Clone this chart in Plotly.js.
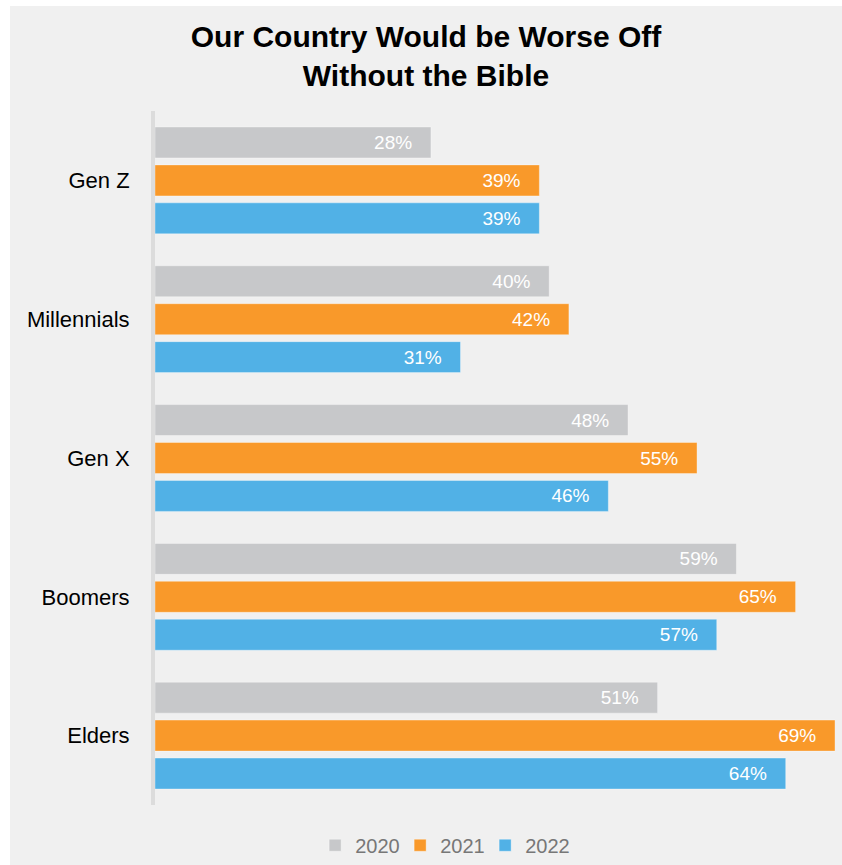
<!DOCTYPE html>
<html>
<head>
<meta charset="utf-8">
<script src="https://cdn.plot.ly/plotly-3.0.1.min.js"></script>
<style>
  html, body { margin: 0; padding: 0; background: #ffffff; }
  #chart { position: absolute; left: 10px; top: 6px; width: 832px; height: 859px; }
</style>
</head>
<body>
<div id="chart"></div>
<script>
const categories = ["Gen Z", "Millennials", "Gen X", "Boomers", "Elders"];
const values2020 = [28, 40, 48, 59, 51];
const values2021 = [39, 42, 55, 65, 69];
const values2022 = [39, 31, 46, 57, 64];
const seriesNames = ["2020", "2021", "2022"];
const seriesColors = ["#c7c8ca", "#f9992a", "#51b1e6"];

const sans = "Liberation Sans, Arial, sans-serif";
const allValues = [values2020, values2021, values2022];

const traces = allValues.map((vals, i) => ({
  type: "bar",
  orientation: "h",
  name: seriesNames[i],
  y: categories,
  x: vals,
  text: vals.map(v => v + "%\u00a0\u00a0\u00a0"),
  textposition: "inside",
  insidetextanchor: "end",
  textangle: 0,
  insidetextfont: { family: sans, size: 19, color: "#ffffff" },
  marker: { color: seriesColors[i], line: { color: "rgba(255,255,255,0.35)", width: 1 } },
  hoverinfo: "skip"
}));

const layout = {
  width: 832,
  height: 859,
  paper_bgcolor: "#f0f0f0",
  plot_bgcolor: "#f0f0f0",
  margin: { l: 145, r: 7, t: 105, b: 60, autoexpand: false },
  barmode: "group",
  bargap: 0.18,
  bargroupgap: 0.184,
  title: {
    text: "<b>Our Country Would be Worse Off<br>Without the Bible</b>",
    font: { family: sans, size: 30, color: "#000000" },
    x: 0.5, xanchor: "center",
    y: 0.952, yanchor: "top", yref: "container"
  },
  xaxis: {
    range: [0, 69],
    showgrid: false, zeroline: false, showline: false,
    showticklabels: false, ticks: "", fixedrange: true
  },
  yaxis: {
    autorange: "reversed",
    showgrid: false, zeroline: false,
    showline: true, linecolor: "#dcdcdc", linewidth: 4,
    ticks: "", ticklabelstandoff: 17,
    tickfont: { family: sans, size: 22, color: "#000000" },
    fixedrange: true
  },
  showlegend: true,
  legend: {
    orientation: "h",
    x: 0.423, xanchor: "center",
    y: 0.023, yanchor: "middle", yref: "container",
    entrywidth: 40,
    font: { family: sans, size: 20, color: "#777777" },
    traceorder: "normal",
    bgcolor: "rgba(0,0,0,0)",
    itemclick: false, itemdoubleclick: false
  }
};

Plotly.newPlot("chart", traces, layout, { displayModeBar: false, staticPlot: true });
</script>
</body>
</html>
